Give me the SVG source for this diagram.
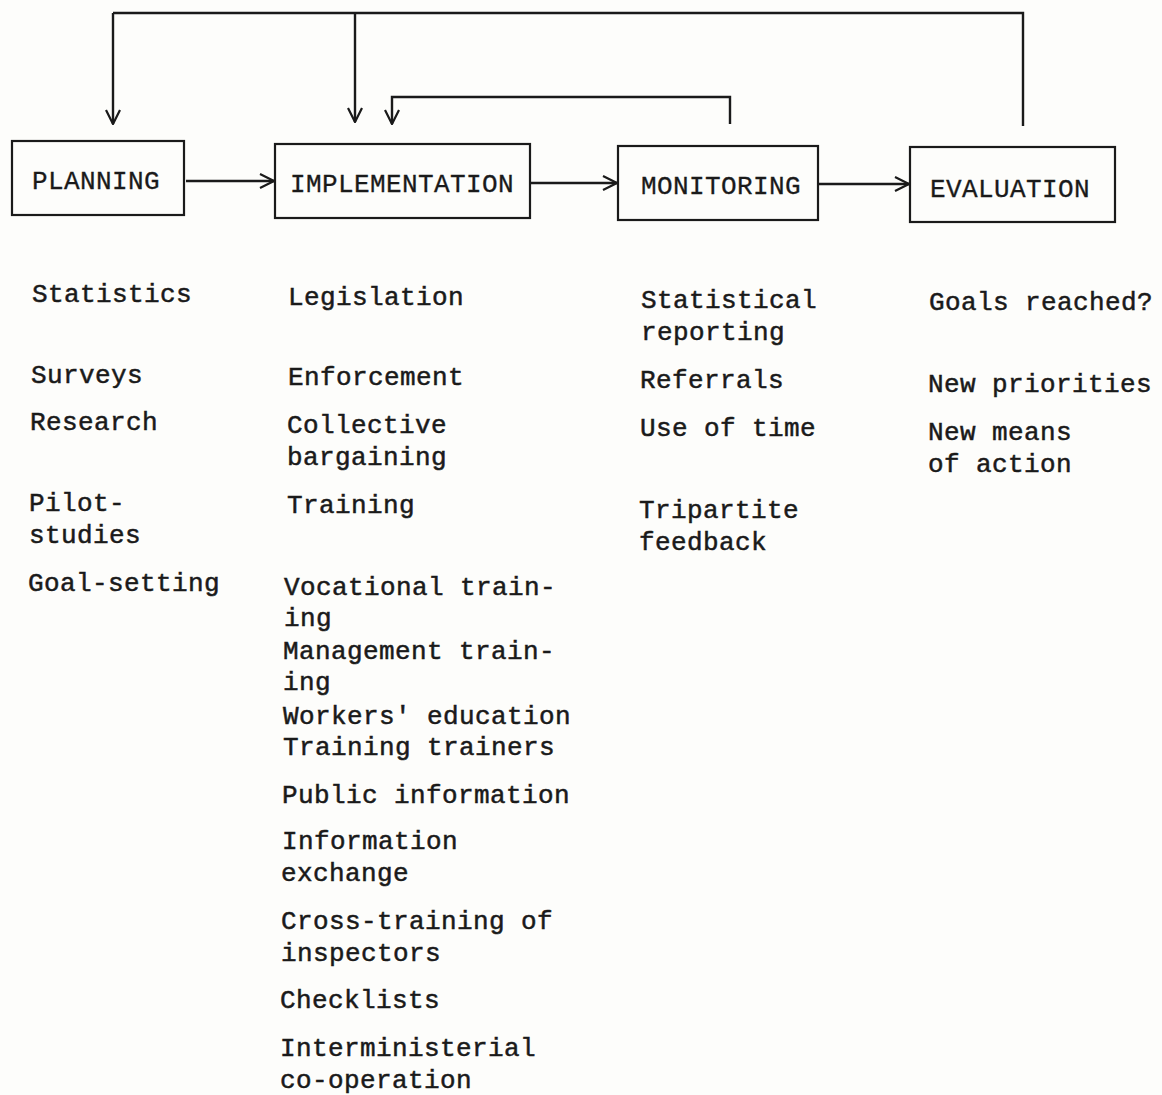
<svg xmlns="http://www.w3.org/2000/svg" width="1162" height="1095" viewBox="0 0 1162 1095">
<defs>
<marker id="arr" viewBox="0 0 16 16" refX="15" refY="8" markerWidth="16" markerHeight="16" markerUnits="userSpaceOnUse" orient="auto">
<path d="M1,1 L15,8 L1,15" fill="none" stroke="#1a1a1a" stroke-width="2.2"/>
</marker>
<style>
.box{fill:none;stroke:#1a1a1a;stroke-width:2.2}
.lbl{font-family:"Liberation Mono","DejaVu Sans Mono",monospace;font-size:26px;letter-spacing:0.4px;fill:#1a1a1a;stroke:#1a1a1a;stroke-width:0.3}
.t{font-family:"Liberation Mono","DejaVu Sans Mono",monospace;font-size:26px;letter-spacing:0.4px;fill:#1a1a1a;stroke:#1a1a1a;stroke-width:0.5}
.c{fill:none;stroke:#1a1a1a;stroke-width:2.4}
</style>
</defs>
<rect width="1162" height="1095" fill="#fdfdfb"/>
<g id="connectors">
<path class="c" d="M113,13 L1023,13 L1023,126"/>
<path class="c" d="M113,13 L113,124" marker-end="url(#arr)"/>
<path class="c" d="M355,13 L355,122" marker-end="url(#arr)"/>
<path class="c" d="M730,124 L730,97 L392,97 L392,124" marker-end="url(#arr)"/>
<path class="c" d="M186,181 L274,181" marker-end="url(#arr)"/>
<path class="c" d="M531,183 L617,183" marker-end="url(#arr)"/>
<path class="c" d="M819,184 L909,184" marker-end="url(#arr)"/>
</g>
<g id="planning">
<rect class="box" x="12" y="141" width="172" height="74"/>
<text class="lbl" x="32" y="189">PLANNING</text>
</g>
<g id="implementation">
<rect class="box" x="275" y="144" width="255" height="74"/>
<text class="lbl" x="290" y="192">IMPLEMENTATION</text>
</g>
<g id="monitoring">
<rect class="box" x="618" y="146" width="200" height="74"/>
<text class="lbl" x="641" y="194">MONITORING</text>
</g>
<g id="evaluation">
<rect class="box" x="910" y="147" width="205" height="75"/>
<text class="lbl" x="930" y="197">EVALUATION</text>
</g>
<g id="planning-items">
<text class="t" x="32" y="302">Statistics</text>
<text class="t" x="31" y="383">Surveys</text>
<text class="t" x="30" y="430">Research</text>
<text class="t" x="29" y="511">Pilot-</text>
<text class="t" x="29" y="543">studies</text>
<text class="t" x="28" y="591">Goal-setting</text>
</g>
<g id="implementation-items">
<text class="t" x="288" y="305">Legislation</text>
<text class="t" x="288" y="385">Enforcement</text>
<text class="t" x="287" y="433">Collective</text>
<text class="t" x="287" y="465">bargaining</text>
<text class="t" x="287" y="513">Training</text>
<text class="t" x="284" y="595">Vocational train-</text>
<text class="t" x="284" y="626">ing</text>
<text class="t" x="283" y="659">Management train-</text>
<text class="t" x="283" y="690">ing</text>
<text class="t" x="283" y="724">Workers' education</text>
<text class="t" x="283" y="755">Training trainers</text>
<text class="t" x="282" y="803">Public information</text>
<text class="t" x="282" y="849">Information</text>
<text class="t" x="281" y="881">exchange</text>
<text class="t" x="281" y="929">Cross-training of</text>
<text class="t" x="281" y="961">inspectors</text>
<text class="t" x="280" y="1008">Checklists</text>
<text class="t" x="280" y="1056">Interministerial</text>
<text class="t" x="280" y="1088">co-operation</text>
</g>
<g id="monitoring-items">
<text class="t" x="641" y="308">Statistical</text>
<text class="t" x="641" y="340">reporting</text>
<text class="t" x="640" y="388">Referrals</text>
<text class="t" x="640" y="436">Use of time</text>
<text class="t" x="639" y="518">Tripartite</text>
<text class="t" x="639" y="550">feedback</text>
</g>
<g id="evaluation-items">
<text class="t" x="929" y="310">Goals reached?</text>
<text class="t" x="928" y="392">New priorities</text>
<text class="t" x="928" y="440">New means</text>
<text class="t" x="928" y="472">of action</text>
</g>
</svg>
